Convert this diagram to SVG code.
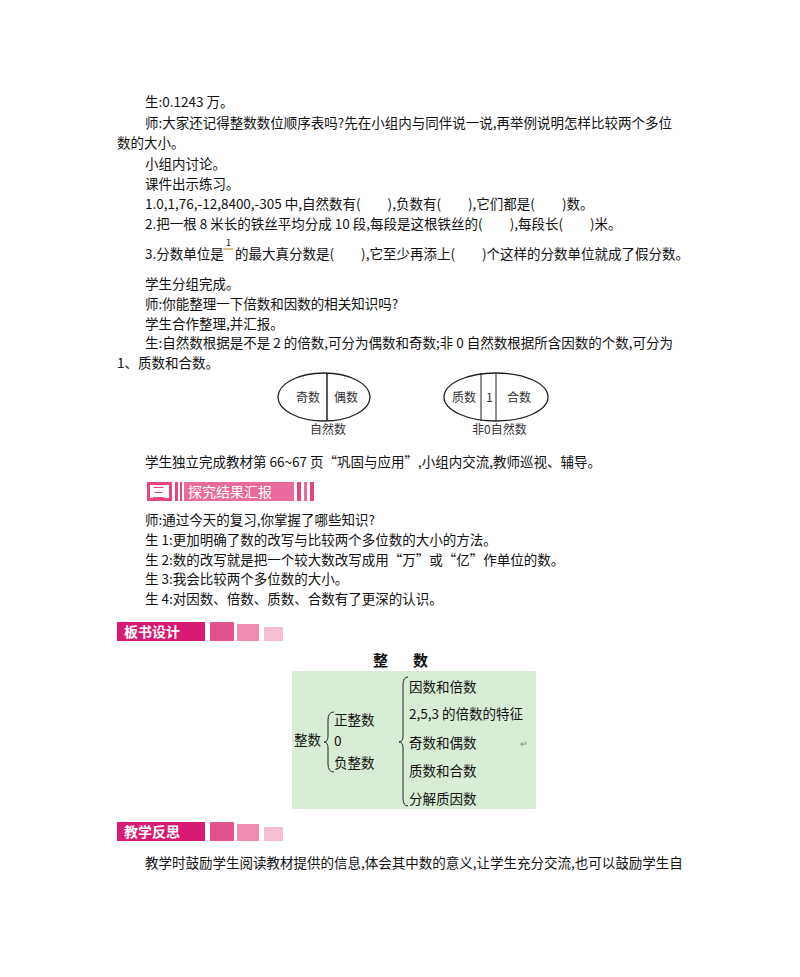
<svg xmlns="http://www.w3.org/2000/svg" width="800" height="977" viewBox="0 0 800 977">
<style>
text{font-family:"Noto Sans CJK SC","Liberation Sans",sans-serif;font-size:13.5px;fill:#111}
.s{font-size:12px;fill:#333}
.w{fill:#fff;font-size:14px}
.e{fill:none;stroke:#222;stroke-width:1.3}
</style>
<rect width="800" height="977" fill="#fff"/>
<g id="text1">
<text x="145" y="107">生:0.1243 万。</text>
<text x="145" y="128">师:大家还记得整数数位顺序表吗?先在小组内与同伴说一说,再举例说明怎样比较两个多位</text>
<text x="117" y="148">数的大小。</text>
<text x="145" y="169">小组内讨论。</text>
<text x="145" y="189">课件出示练习。</text>
<text x="145" y="209">1.0,1,76,-12,8400,-305 中,自然数有(　　),负数有(　　),它们都是(　　)数。</text>
<text x="145" y="229">2.把一根 8 米长的铁丝平均分成 10 段,每段是这根铁丝的(　　),每段长(　　)米。</text>
<text x="145" y="259">3.分数单位是</text>
<text x="226" y="246" style="font-size:9px">1</text>
<line x1="223" y1="249" x2="233" y2="249" stroke="#b8860b" stroke-width="1"/>
<text x="235" y="259">的最大真分数是(　　),它至少再添上(　　)个这样的分数单位就成了假分数。</text>
<text x="145" y="289">学生分组完成。</text>
<text x="145" y="309">师:你能整理一下倍数和因数的相关知识吗?</text>
<text x="145" y="329">学生合作整理,并汇报。</text>
<text x="145" y="348">生:自然数根据是不是 2 的倍数,可分为偶数和奇数;非 0 自然数根据所含因数的个数,可分为</text>
<text x="117" y="368">1、质数和合数。</text>
</g>
<g id="ellipse1">
<ellipse class="e" cx="324" cy="397" rx="46" ry="24"/>
<line x1="327" y1="373" x2="327" y2="421" stroke="#222" stroke-width="1.5"/>
<text class="s" x="296" y="402">奇数</text>
<text class="s" x="334" y="402">偶数</text>
<text class="s" x="310" y="434">自然数</text>
</g>
<g id="ellipse2">
<ellipse class="e" cx="496" cy="397" rx="52" ry="24"/>
<line x1="481" y1="373" x2="481" y2="421" stroke="#222" stroke-width="1"/>
<line x1="496" y1="373" x2="496" y2="421" stroke="#222" stroke-width="1"/>
<text class="s" x="452" y="402">质数</text>
<text class="s" x="486" y="402">1</text>
<text class="s" x="507" y="402">合数</text>
<text class="s" x="472" y="434">非0自然数</text>
</g>
<text x="145" y="467">学生独立完成教材第 66~67 页“巩固与应用”,小组内交流,教师巡视、辅导。</text>
<g id="header3">
<rect x="147" y="482" width="25" height="19" fill="#e4467f"/>
<rect x="150" y="485" width="19" height="13" fill="#fff"/>
<text x="152" y="497" style="font-size:13px;fill:#e4467f">三</text>
<rect x="175" y="482" width="3" height="19" fill="#e4467f"/>
<rect x="180" y="482" width="2" height="19" fill="#e4467f"/>
<rect x="184" y="482" width="110" height="19" fill="#e96a9c"/>
<text class="w" x="188" y="497">探究结果汇报</text>
<rect x="297" y="482" width="4" height="19" fill="#e4467f"/>
<rect x="304" y="482" width="3" height="19" fill="#e96a9c"/>
<rect x="310" y="482" width="4" height="19" fill="#e4467f"/>
</g>
<g id="text2">
<text x="145" y="525">师:通过今天的复习,你掌握了哪些知识?</text>
<text x="145" y="545">生 1:更加明确了数的改写与比较两个多位数的大小的方法。</text>
<text x="145" y="565">生 2:数的改写就是把一个较大数改写成用“万”或“亿”作单位的数。</text>
<text x="145" y="584">生 3:我会比较两个多位数的大小。</text>
<text x="145" y="604">生 4:对因数、倍数、质数、合数有了更深的认识。</text>
</g>
<g id="header4">
<rect x="117" y="622" width="88" height="19" fill="#d81b72"/>
<text class="w" x="124" y="637" style="font-weight:bold">板书设计</text>
<rect x="210" y="622" width="24" height="19" fill="#e2528c"/>
<rect x="237" y="624" width="22" height="17" fill="#ee8cb2"/>
<rect x="264" y="627" width="19" height="14" fill="#f6bdd3"/>
</g>
<text x="373" y="666" style="font-size:15px;font-weight:bold">整</text>
<text x="413" y="666" style="font-size:15px;font-weight:bold">数</text>
<g id="board">
<rect x="292" y="671" width="244" height="138" fill="#d9ecd6"/>
<text x="294" y="745">整数</text>
<path d="M334 712 Q328 712 328 720 L328 736 Q328 742 324 742 Q328 742 328 748 L328 764 Q328 772 334 772" fill="none" stroke="#222"/>
<text x="334" y="725">正整数</text>
<text x="334" y="746">0</text>
<text x="334" y="768">负整数</text>
<path d="M408 677 Q403 677 403 685 L403 736 Q403 742 399 742 Q403 742 403 748 L403 798 Q403 806 408 806" fill="none" stroke="#222"/>
<text x="409" y="692">因数和倍数</text>
<text x="409" y="719">2,5,3 的倍数的特征</text>
<text x="409" y="748">奇数和偶数</text>
<text x="409" y="776">质数和合数</text>
<text x="409" y="804">分解质因数</text>
<text x="520" y="747" style="font-size:9px;fill:#888">↵</text>
</g>
<g id="header5">
<rect x="117" y="822" width="88" height="19" fill="#d81b72"/>
<text class="w" x="124" y="837" style="font-weight:bold">教学反思</text>
<rect x="210" y="822" width="24" height="19" fill="#e2528c"/>
<rect x="237" y="824" width="22" height="17" fill="#ee8cb2"/>
<rect x="264" y="827" width="19" height="14" fill="#f6bdd3"/>
</g>
<text x="145" y="868">教学时鼓励学生阅读教材提供的信息,体会其中数的意义,让学生充分交流,也可以鼓励学生自</text>
</svg>
